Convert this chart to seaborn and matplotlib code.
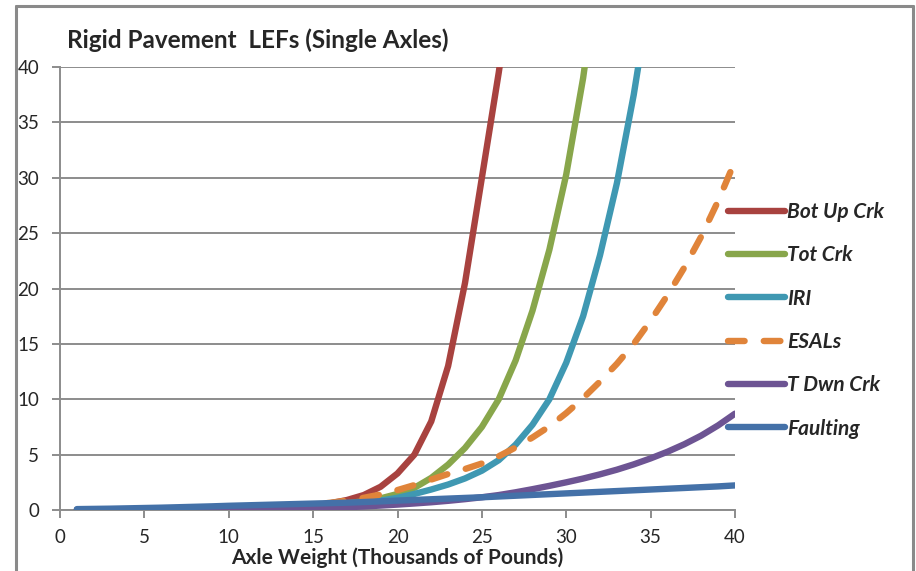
import numpy as np
import pandas as pd
import matplotlib
matplotlib.use("Agg")
import matplotlib.pyplot as plt
from matplotlib.lines import Line2D
import seaborn as sns

# ---------------- data ----------------
axle_weight = list(range(1, 41))

bot_up_crk = [0.00, 0.00, 0.01, 0.01, 0.02, 0.03, 0.04, 0.05, 0.07, 0.09,
              0.12, 0.16, 0.22, 0.30, 0.42, 0.60, 0.90, 1.35, 2.10, 3.30,
              5.00, 8.00, 13.0, 20.5, 30.0, 39.5, 50.0, 62.0, 76.0, 92.0,
              110.0, 130.0, 152.0, 176.0, 202.0, 230.0, 260.0, 292.0, 326.0, 362.0]
tot_crk = [0.00, 0.00, 0.01, 0.01, 0.02, 0.03, 0.04, 0.05, 0.07, 0.09,
           0.12, 0.16, 0.21, 0.28, 0.36, 0.46, 0.60, 0.80, 1.05, 1.45,
           2.00, 2.90, 4.10, 5.60, 7.50, 10.0, 13.5, 18.0, 23.5, 30.3,
           39.0, 50.0, 63.0, 78.0, 95.0, 114.0, 135.0, 158.0, 183.0, 210.0]
iri = [0.00, 0.00, 0.01, 0.01, 0.02, 0.03, 0.04, 0.05, 0.07, 0.09,
       0.12, 0.15, 0.19, 0.24, 0.30, 0.38, 0.50, 0.65, 0.85, 1.10,
       1.45, 1.85, 2.30, 2.85, 3.55, 4.50, 5.90, 7.70, 10.0, 13.3,
       17.5, 23.0, 29.5, 37.5, 47.0, 58.0, 70.0, 84.0, 100.0, 118.0]
esals = [0.00, 0.00, 0.01, 0.01, 0.02, 0.03, 0.04, 0.06, 0.08, 0.11,
         0.15, 0.20, 0.27, 0.37, 0.50, 0.65, 0.85, 1.10, 1.40, 1.80,
         2.25, 2.75, 3.25, 3.70, 4.20, 4.85, 5.65, 6.55, 7.55, 8.75,
         10.1, 11.6, 13.2, 15.0, 17.1, 19.4, 21.9, 24.7, 27.9, 31.5]
t_dwn_crk = [0.00, 0.00, 0.00, 0.00, 0.01, 0.01, 0.01, 0.02, 0.02, 0.03,
             0.04, 0.05, 0.07, 0.10, 0.14, 0.19, 0.25, 0.32, 0.40, 0.49,
             0.59, 0.70, 0.83, 0.98, 1.15, 1.35, 1.60, 1.88, 2.18, 2.50,
             2.84, 3.22, 3.64, 4.12, 4.66, 5.26, 5.94, 6.72, 7.64, 8.70]
faulting = [0.08, 0.10, 0.12, 0.15, 0.18, 0.21, 0.25, 0.29, 0.33, 0.38,
            0.42, 0.46, 0.50, 0.54, 0.58, 0.62, 0.66, 0.72, 0.78, 0.85,
            0.91, 0.97, 1.03, 1.09, 1.15, 1.22, 1.29, 1.36, 1.43, 1.50,
            1.57, 1.64, 1.71, 1.78, 1.85, 1.92, 1.99, 2.06, 2.13, 2.22]

series_names = ["Bot Up Crk", "Tot Crk", "IRI", "ESALs", "T Dwn Crk", "Faulting"]
series_values = [bot_up_crk, tot_crk, iri, esals, t_dwn_crk, faulting]
series_colors = ["#A8423F", "#88A64B", "#3F98B2", "#E0843A", "#6D5493", "#4471A8"]

x_ticks = [0, 5, 10, 15, 20, 25, 30, 35, 40]
y_ticks = [0, 5, 10, 15, 20, 25, 30, 35, 40]

# ---------------- figure ----------------
sns.set_style("white")
plt.rcParams["font.family"] = ["Lato", "DejaVu Sans"]

W, H = 916, 571
fig = plt.figure(figsize=(W / 100, H / 100), dpi=100)
ax = fig.add_axes([60 / W, 1 - 510 / H, (735 - 60) / W, (510 - 67) / H])

grid_color = "#8C8C8C"
lw = 4.6

for name, vals, col in zip(series_names, series_values, series_colors):
    df = pd.DataFrame({"x": axle_weight, "y": vals})
    kw = dict(solid_capstyle="round", dash_capstyle="round",
              solid_joinstyle="round")
    if name == "ESALs":
        kw["linestyle"] = (0, (2.6, 3.0))
    sns.lineplot(data=df, x="x", y="y", ax=ax, color=col, linewidth=lw,
                 label=name, zorder=3, **kw)

ax.set_xlim(0, 40)
ax.set_ylim(0, 40)
ax.set_xticks(x_ticks)
ax.set_yticks(y_ticks)
ax.set_xticklabels([str(t) for t in x_ticks])
ax.set_yticklabels([str(t) for t in y_ticks])
ax.yaxis.grid(True, color=grid_color, linewidth=1.4)
ax.xaxis.grid(False)
ax.set_axisbelow(True)
for s in ["top", "right"]:
    ax.spines[s].set_visible(False)
for s in ["left", "bottom"]:
    ax.spines[s].set_color(grid_color)
    ax.spines[s].set_linewidth(1.4)
ax.tick_params(axis="x", which="both", direction="out", length=6,
               width=1.4, color=grid_color, labelsize=13.5, pad=8, bottom=True)
ax.tick_params(axis="y", which="both", direction="out", length=6,
               width=1.4, color=grid_color, labelsize=13.5, pad=9, left=True)

ax.set_xlabel("Axle Weight (Thousands of Pounds)", fontsize=15,
              fontweight="bold", labelpad=1)
ax.set_ylabel("")

fig.text(67 / W, 1 - 40 / H, "Rigid Pavement  LEFs (Single Axles)",
         fontsize=17.5, fontweight="bold", va="center", ha="left")

leg = ax.legend(loc="upper left", bbox_to_anchor=(728 / W, 1 - 202 / H),
                bbox_transform=fig.transFigure, frameon=False,
                handlelength=2.75, handletextpad=0.08, labelspacing=1.12,
                borderpad=0, borderaxespad=0,
                prop=dict(size=15, weight="bold", style="italic"))
for line in leg.get_lines():
    line.set_linewidth(lw)

# outer chart frame (partially visible)
frame_kw = dict(color="#8A8A8A", linewidth=2.2, transform=fig.transFigure)
fig.add_artist(Line2D([16 / W, 913 / W], [1 - 6 / H, 1 - 6 / H], **frame_kw))
fig.add_artist(Line2D([16 / W, 16 / W], [0, 1 - 6 / H], **frame_kw))
fig.add_artist(Line2D([913 / W, 913 / W], [0, 1 - 6 / H], **frame_kw))

fig.savefig("out.png", dpi=100, facecolor="white")
